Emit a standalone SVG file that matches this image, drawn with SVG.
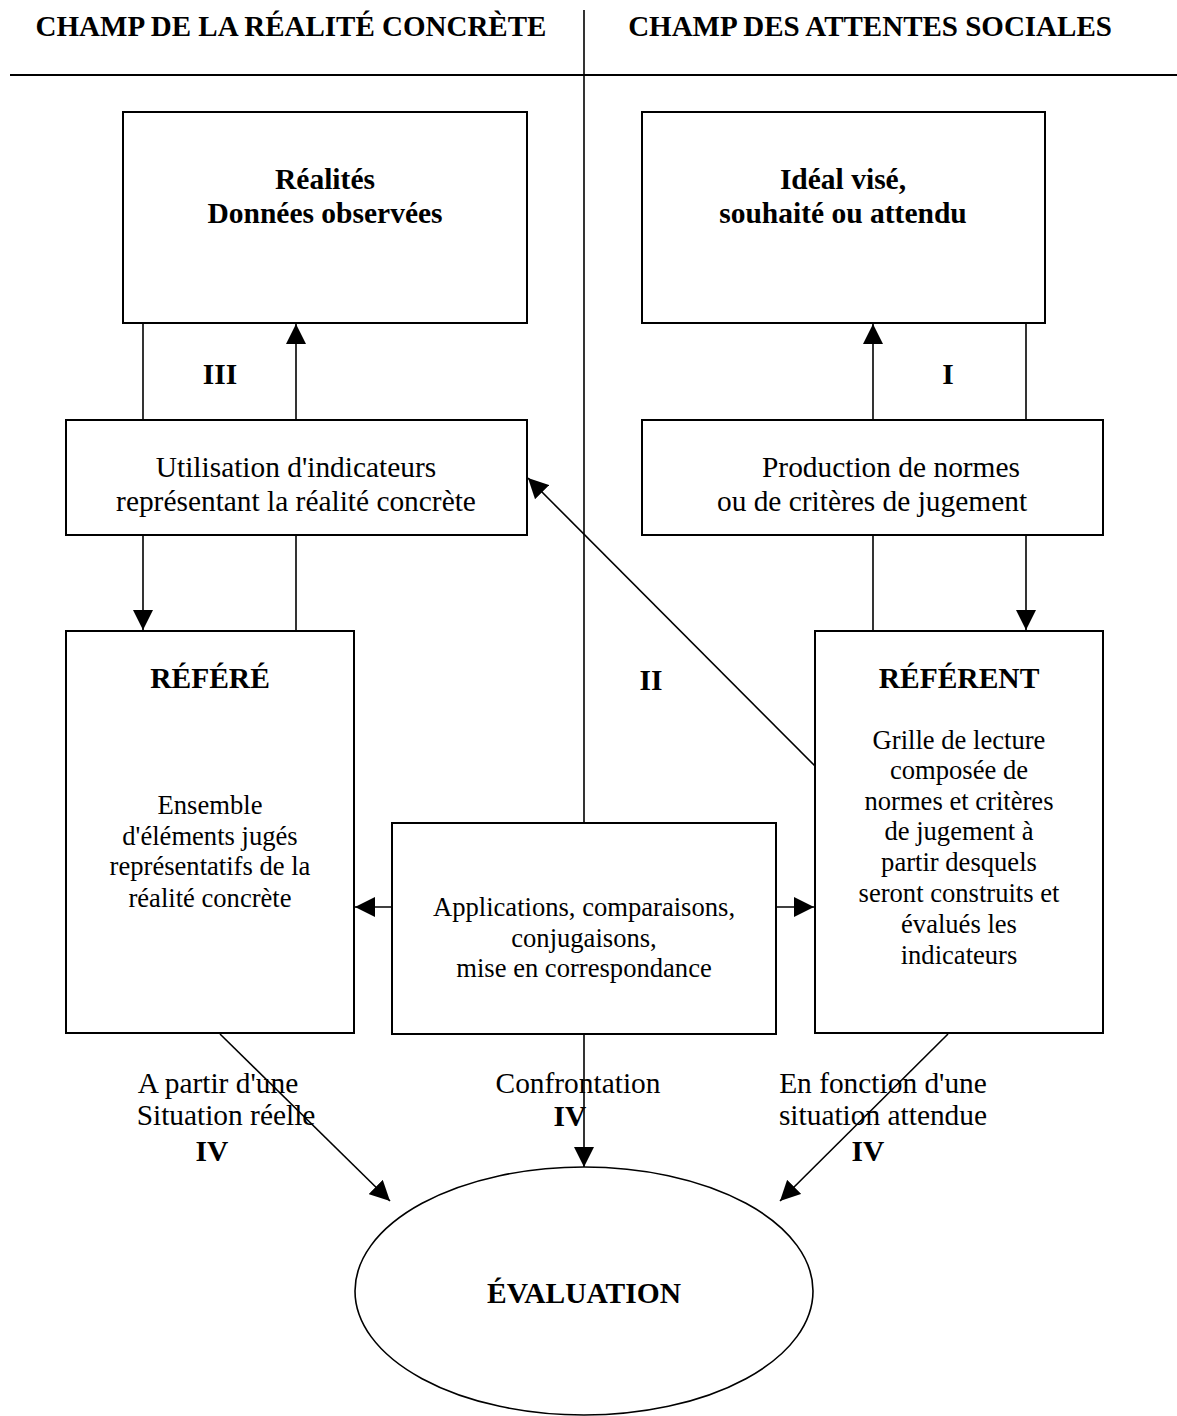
<svg xmlns="http://www.w3.org/2000/svg" width="1177" height="1416" viewBox="0 0 1177 1416">
<style>
text{font-family:"Liberation Serif","Times New Roman",serif;fill:#000;text-anchor:middle}
.h{font-size:29px;font-weight:bold}
.b{font-size:29.5px;font-weight:bold}
.t{font-size:29.4px}
.s{font-size:26.6px}
.box{fill:#fff;stroke:#000;stroke-width:2}
.ln{fill:none;stroke:#000;stroke-width:1.6}
</style>
<defs>
<marker id="ah" markerWidth="20" markerHeight="20" viewBox="0 0 20 20" refX="20" refY="10" orient="auto" markerUnits="userSpaceOnUse">
<path d="M0,0 L20,10 L0,20 Z" fill="#000"/>
</marker>
</defs>
<rect width="1177" height="1416" fill="#fff"/>
<g id="header">
<text class="h" x="291" y="36">CHAMP DE LA RÉALITÉ CONCRÈTE</text>
<text class="h" x="870" y="36">CHAMP DES ATTENTES SOCIALES</text>
<line x1="10" y1="75" x2="1177" y2="75" stroke="#000" stroke-width="2"/>
</g>
<g id="connectors">
<line class="ln" x1="584" y1="10" x2="584" y2="823"/>
<line class="ln" x1="143" y1="323" x2="143" y2="420"/>
<line class="ln" x1="296" y1="420" x2="296" y2="324" marker-end="url(#ah)"/>
<line class="ln" x1="143" y1="535" x2="143" y2="630" marker-end="url(#ah)"/>
<line class="ln" x1="296" y1="535" x2="296" y2="631"/>
<line class="ln" x1="873" y1="420" x2="873" y2="324" marker-end="url(#ah)"/>
<line class="ln" x1="1026" y1="323" x2="1026" y2="420"/>
<line class="ln" x1="873" y1="535" x2="873" y2="631"/>
<line class="ln" x1="1026" y1="535" x2="1026" y2="630" marker-end="url(#ah)"/>
<line class="ln" x1="815" y1="766" x2="528" y2="478" marker-end="url(#ah)"/>
<line class="ln" x1="392" y1="907" x2="355" y2="907" marker-end="url(#ah)"/>
<line class="ln" x1="776" y1="907" x2="814" y2="907" marker-end="url(#ah)"/>
<line class="ln" x1="584" y1="1035" x2="584" y2="1167" marker-end="url(#ah)"/>
<line class="ln" x1="220" y1="1034" x2="390" y2="1201" marker-end="url(#ah)"/>
<line class="ln" x1="948" y1="1034" x2="780" y2="1201" marker-end="url(#ah)"/>
</g>
<g id="realites">
<rect class="box" x="123" y="112" width="404" height="211"/>
<text class="b" x="325" y="189">Réalités</text>
<text class="b" x="325" y="223">Données observées</text>
</g>
<g id="ideal">
<rect class="box" x="642" y="112" width="403" height="211"/>
<text class="b" x="843" y="189">Idéal visé,</text>
<text class="b" x="843" y="223">souhaité ou attendu</text>
</g>
<g id="label-III"><text class="b" x="220" y="384">III</text></g>
<g id="label-I"><text class="b" x="948" y="384">I</text></g>
<g id="utilisation">
<rect class="box" x="66" y="420" width="461" height="115"/>
<text class="t" x="296" y="477">Utilisation d'indicateurs</text>
<text class="t" x="296" y="511">représentant la réalité concrète</text>
</g>
<g id="production">
<rect class="box" x="642" y="420" width="461" height="115"/>
<text class="t" x="891" y="477">Production de normes</text>
<text class="t" x="872" y="511">ou de critères de jugement</text>
</g>
<g id="refere">
<rect class="box" x="66" y="631" width="288" height="402"/>
<text class="b" x="210" y="688">RÉFÉRÉ</text>
<text class="s" x="210" y="814">Ensemble</text>
<text class="s" x="210" y="845">d'éléments jugés</text>
<text class="s" x="210" y="875">représentatifs de la</text>
<text class="s" x="210" y="907">réalité concrète</text>
</g>
<g id="label-II"><text class="b" x="651" y="690">II</text></g>
<g id="referent">
<rect class="box" x="815" y="631" width="288" height="402"/>
<text class="b" x="959" y="688">RÉFÉRENT</text>
<text class="s" x="959" y="749">Grille de lecture</text>
<text class="s" x="959" y="779">composée de</text>
<text class="s" x="959" y="810">normes et critères</text>
<text class="s" x="959" y="840">de jugement à</text>
<text class="s" x="959" y="871">partir desquels</text>
<text class="s" x="959" y="902">seront construits et</text>
<text class="s" x="959" y="933">évalués les</text>
<text class="s" x="959" y="964">indicateurs</text>
</g>
<g id="applications">
<rect class="box" x="392" y="823" width="384" height="211"/>
<text class="s" x="584" y="916">Applications, comparaisons,</text>
<text class="s" x="584" y="947">conjugaisons,</text>
<text class="s" x="584" y="977">mise en correspondance</text>
</g>
<g id="bottom-labels">
<text class="t" x="218" y="1093">A partir d'une</text>
<text class="t" x="226" y="1125">Situation réelle</text>
<text class="b" x="212" y="1161">IV</text>
<text class="t" x="578" y="1093">Confrontation</text>
<text class="b" x="570" y="1126">IV</text>
<text class="t" x="883" y="1093">En fonction d'une</text>
<text class="t" x="883" y="1125">situation attendue</text>
<text class="b" x="868" y="1161">IV</text>
</g>
<g id="evaluation">
<ellipse cx="584" cy="1291" rx="229" ry="124" fill="#fff" stroke="#000" stroke-width="1.6"/>
<text class="b" x="584" y="1303">ÉVALUATION</text>
</g>
</svg>
